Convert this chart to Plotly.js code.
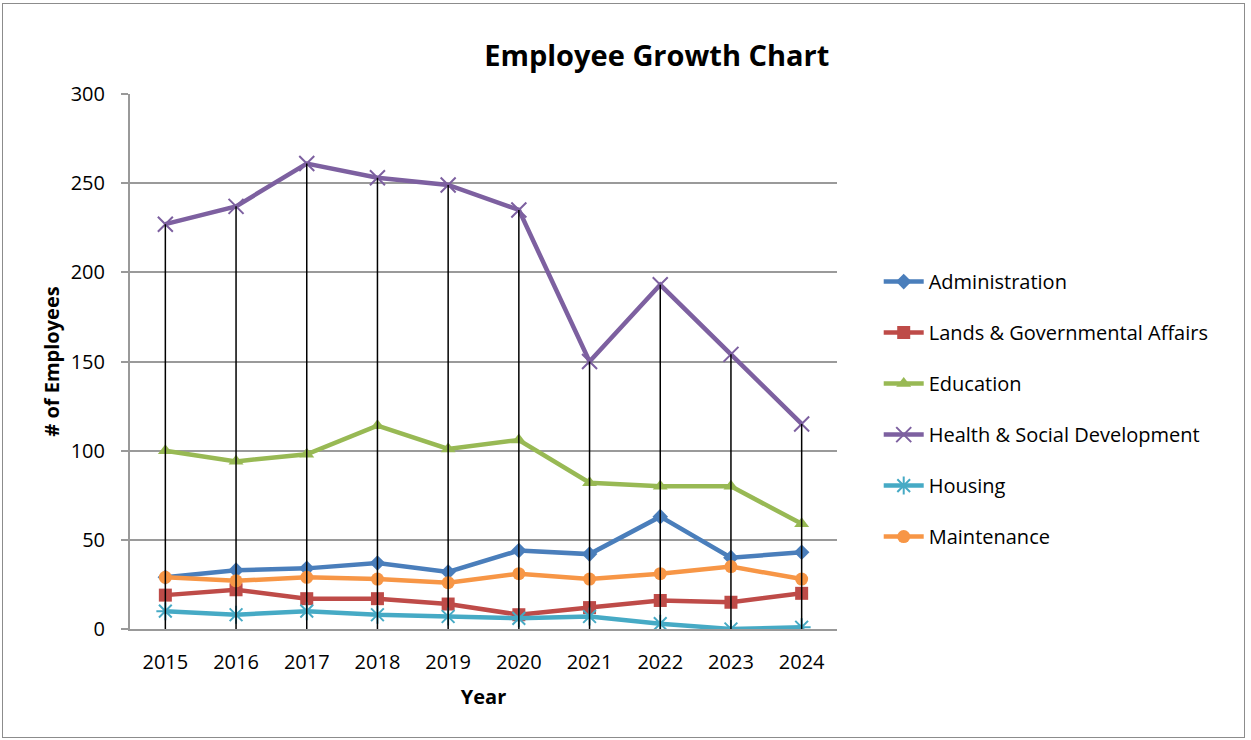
<!DOCTYPE html>
<html>
<head>
<meta charset="utf-8">
<script src="https://cdn.plot.ly/plotly-3.0.1.min.js"></script>
<style>
  html, body { margin: 0; padding: 0; background: #fff; }
  #frame { position: absolute; left: 2px; top: 3px; width: 1241px; height: 733px; border: 1px solid #8c8c8c; }
  #chart { position: absolute; left: 0; top: 0; width: 1251px; height: 740px; }
</style>
</head>
<body>
<div id="frame"></div>
<div id="chart"></div>
<script>
const years = ['2015','2016','2017','2018','2019','2020','2021','2022','2023','2024'];
const administration = [29, 33, 34, 37, 32, 44, 42, 63, 40, 43];
const lands = [19, 22, 17, 17, 14, 8, 12, 16, 15, 20];
const education = [100, 94, 98, 114, 101, 106, 82, 80, 80, 59];
const health = [227, 237, 261, 253, 249, 235, 150, 193, 154, 115];
const housing = [10, 8, 10, 8, 7, 6, 7, 3, 0, 1];
const maintenance = [29, 27, 29, 28, 26, 31, 28, 31, 35, 28];

const seriesNames = ['Administration', 'Lands & Governmental Affairs', 'Education', 'Health & Social Development', 'Housing', 'Maintenance'];
const seriesData = [administration, lands, education, health, housing, maintenance];
const colors = ['#4A7EBB', '#BE4B48', '#98B954', '#7D60A0', '#46AAC5', '#F79646'];
const symbols = ['diamond', 'square', 'triangle-up', 'x-thin-open', 'asterisk-open', 'circle'];
const sizes = [12, 13, 13, 15, 15, 13];

const traces = [];
seriesNames.forEach((name, k) => {
  traces.push({
    x: years, y: seriesData[k], name: name, type: 'scatter', mode: 'lines+markers',
    legendgroup: 'g' + k,
    line: { color: colors[k], width: 4.5 },
    marker: { symbol: symbols[k], size: sizes[k], color: colors[k],
              line: { color: colors[k], width: (k === 3 || k === 4) ? 2 : 0 } }
  });
});

// drop lines from the highest series down to the axis
const dropX = [], dropY = [];
years.forEach((yr, i) => {
  const top = Math.max(...seriesData.map(s => s[i]));
  dropX.push(yr, yr, null);
  dropY.push(0, top, null);
});
traces.push({
  x: dropX, y: dropY, mode: 'lines', type: 'scatter',
  line: { color: '#000', width: 1.5 }, showlegend: false, hoverinfo: 'skip'
});

const fontFam = '"Open Sans", "Noto Sans", sans-serif';
const layout = {
  width: 1251, height: 740,
  margin: { l: 130, r: 414, t: 94, b: 111 },
  paper_bgcolor: 'rgba(0,0,0,0)', plot_bgcolor: '#fff',
  font: { family: fontFam, color: '#000', size: 20 },
  title: { text: '<b>Employee Growth Chart</b>', x: 0.525, xanchor: 'center', y: 0.925, yanchor: 'middle',
           font: { family: fontFam, size: 29, color: '#000' } },
  xaxis: {
    type: 'category', range: [-0.5, 9.5],
    showgrid: false, showline: true, linecolor: '#999', linewidth: 2,
    ticks: '', tickfont: { size: 20 }, ticklabelstandoff: 14,
    title: { text: '<b>Year</b>', font: { size: 20 }, standoff: 16 }
  },
  yaxis: {
    range: [0, 300], dtick: 50, showgrid: true, gridcolor: '#9a9a9a', gridwidth: 2,
    showline: true, linecolor: '#999', linewidth: 2, zeroline: false,
    ticks: 'outside', ticklen: 7, tickcolor: '#999', tickwidth: 2, tickfont: { size: 20 },
    ticklabelstandoff: 12,
    title: { text: '<b># of Employees</b>', font: { size: 20 }, standoff: 6 }
  },
  legend: {
    x: 1.059, xanchor: 'left', y: 0.411, yanchor: 'middle',
    font: { size: 20 }, traceorder: 'grouped', tracegroupgap: 22,
    bgcolor: 'rgba(0,0,0,0)', itemwidth: 40
  },
  showlegend: true
};

Plotly.newPlot('chart', traces, layout, { displayModeBar: false, staticPlot: true });
</script>
</body>
</html>
